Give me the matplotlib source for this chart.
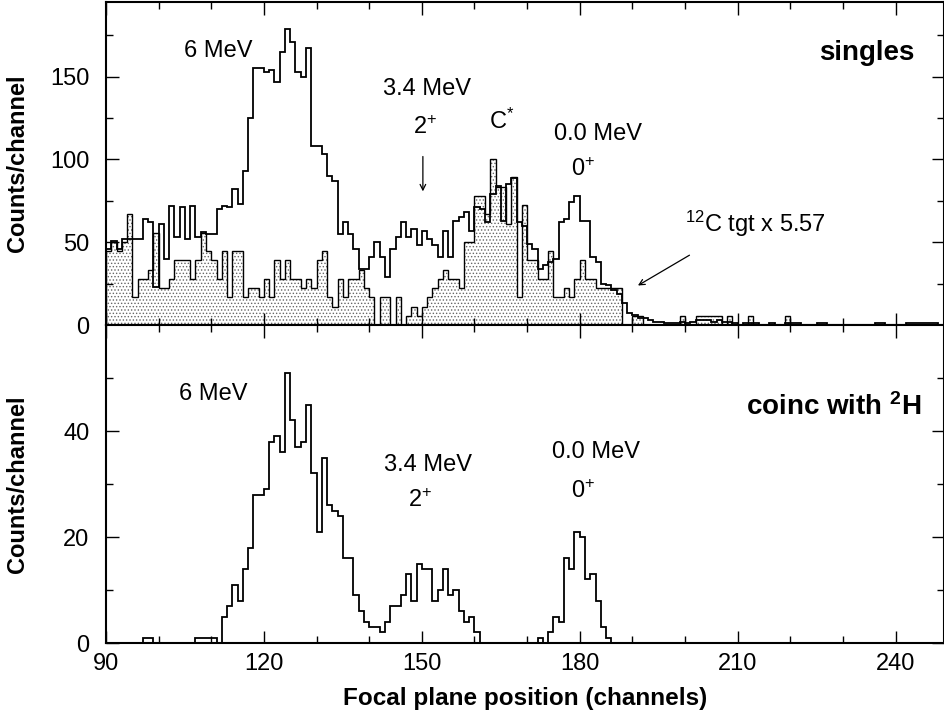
import numpy as np
import matplotlib
matplotlib.use("Agg")
import matplotlib.pyplot as plt

plt.rcParams['font.family'] = ['Liberation Sans', 'DejaVu Sans']
plt.rcParams['mathtext.fontset'] = 'custom'
plt.rcParams['mathtext.rm'] = 'Liberation Sans'
plt.rcParams['mathtext.it'] = 'Liberation Sans:italic'
plt.rcParams['mathtext.bf'] = 'Liberation Sans:bold'
plt.rcParams['hatch.linewidth'] = 0.6

# channel edges: bins of width 1 starting at channel 90
first_channel = 90

# singles spectrum (open histogram), channels 90..249
singles = [46, 51, 46, 52, 52, 52, 52, 64, 62, 23,
           61, 40, 72, 53, 71, 52, 72, 53, 56, 55,
           55, 70, 72, 71, 82, 73, 93, 125, 155, 155,
           153, 154, 147, 165, 179, 171, 153, 150, 167, 108,
           108, 103, 90, 87, 55, 62, 55, 46, 34, 34,
           41, 50, 41, 29, 46, 53, 62, 53, 58, 48,
           57, 52, 48, 41, 57, 41, 63, 65, 68, 57,
           71, 70, 62, 79, 84, 63, 85, 89, 62, 60,
           49, 46, 34, 36, 38, 40, 62, 64, 74, 78,
           63, 63, 41, 38, 25, 24, 21, 19, 13, 7,
           6, 4, 4, 3, 2, 2, 1, 1, 1, 2,
           1, 2, 3, 3, 3, 2, 3, 2, 2, 1,
           0, 1, 1, 1, 0, 0, 1, 0, 0, 1,
           1, 1, 0, 0, 0, 1, 1, 0, 0, 0,
           0, 0, 0, 0, 0, 0, 1, 1, 0, 0,
           0, 0, 1, 1, 1, 1, 1, 1, 0, 0]

# 12C target spectrum (raw counts per channel), shown scaled x 5.57
carbon_scale = 5.57
carbon_counts = [8, 9, 8, 9, 12, 3, 5, 5, 6, 10,
                 4, 4, 5, 7, 7, 7, 5, 7, 10, 8,
                 7, 5, 8, 3, 8, 8, 3, 4, 4, 3,
                 5, 3, 7, 5, 7, 5, 5, 4, 5, 4,
                 7, 8, 3, 2, 5, 3, 5, 5, 6, 4,
                 3, 0, 3, 3, 0, 3, 0, 1, 2, 1,
                 2, 3, 4, 5, 6, 5, 5, 4, 9, 9,
                 14, 14, 12, 18, 15, 15, 11, 16, 3, 13,
                 7, 7, 5, 5, 8, 3, 3, 4, 3, 5,
                 7, 5, 5, 4, 4, 4, 4, 4, 0, 0,
                 1, 1, 0, 0, 0, 0, 0, 0, 0, 1,
                 0, 0, 1, 1, 1, 1, 1, 0, 1, 0,
                 0, 0, 1, 0, 0, 0, 0, 0, 0, 1,
                 0, 0, 0, 0, 0, 0, 0, 0, 0, 0,
                 0, 0, 0, 0, 0, 0, 0, 0, 0, 0,
                 0, 0, 0, 0, 0, 0, 0, 0, 0, 0]

# coincidences with 2H, channels 90..249
coinc = [0, 0, 0, 0, 0, 0, 0, 1, 1, 0,
         0, 0, 0, 0, 0, 0, 0, 1, 1, 1,
         1, 0, 5, 7, 11, 8, 14, 18, 28, 28,
         29, 38, 39, 36, 51, 42, 37, 38, 45, 32,
         21, 35, 26, 25, 24, 16, 16, 9, 6, 4,
         3, 3, 2, 4, 7, 7, 9, 13, 8, 15,
         14, 14, 8, 10, 14, 9, 10, 6, 4, 5,
         2, 0, 0, 0, 0, 0, 0, 0, 0, 0,
         0, 0, 1, 0, 2, 5, 4, 16, 14, 21,
         20, 12, 13, 8, 3, 1, 0, 0, 0, 0,
         0, 0, 0, 0, 0, 0, 0, 0, 0, 0,
         0, 0, 0, 0, 0, 0, 0, 0, 0, 0,
         0, 0, 0, 0, 0, 0, 0, 0, 0, 0,
         0, 0, 0, 0, 0, 0, 0, 0, 0, 0,
         0, 0, 0, 0, 0, 0, 0, 0, 0, 0,
         0, 0, 0, 0, 0, 0, 0, 0, 0, 0]

edges = np.arange(first_channel, first_channel + len(singles) + 1)
carbon = np.array(carbon_counts) * carbon_scale

W, H = 945, 712
fig = plt.figure(figsize=(W / 100, H / 100), dpi=100)
left, right = 106 / W, 944 / W
ax1 = fig.add_axes([left, (H - 325) / H, right - left, 323 / H])
ax2 = fig.add_axes([left, (H - 643) / H, right - left, 318 / H], sharex=ax1)

# top panel
ax1.stairs(carbon, edges, fill=True, facecolor='white', edgecolor='#666666',
           hatch='.....', linewidth=0, zorder=1)
ax1.stairs(carbon, edges, color='black', linewidth=1.0, zorder=2)
ax1.stairs(singles, edges, color='black', linewidth=1.3, zorder=3)
ax1.set_ylim(0, 195)
ax1.set_yticks([0, 50, 100, 150])
ax1.set_yticks([25, 75, 125, 175], minor=True)

# bottom panel
ax2.stairs(coinc, edges, color='black', linewidth=1.3, zorder=3)
ax2.set_ylim(0, 60)
ax2.set_yticks([0, 20, 40])
ax2.set_yticks([10, 30, 50], minor=True)

ax2.set_xlim(90, 249.2)
ax2.set_xticks([90, 120, 150, 180, 210, 240])
ax2.set_xticks(np.arange(90, 250, 10), minor=True)

for ax in (ax1, ax2):
    ax.tick_params(which='both', direction='in', top=True, right=True,
                   labelsize=17, width=1)
    ax.tick_params(which='major', length=9)
    ax.tick_params(which='minor', length=5)
    ax.tick_params(axis='y', which='major', pad=12)
    ax.tick_params(axis='x', which='major', pad=7)
    for s in ax.spines.values():
        s.set_linewidth(1.5)
ax1.tick_params(labelbottom=False)

ylab = dict(fontsize=17, fontweight='bold', rotation=90, ha='center', va='center')
fig.text(18 / W, 1 - 163 / H, 'Counts/channel', **ylab)
fig.text(18 / W, 1 - 484 / H, 'Counts/channel', **ylab)
fig.text((106 + 944) / 2 / W, 1 - 698 / H, 'Focal plane position (channels)',
         fontsize=17.5, fontweight='bold', ha='center', va='center')

tk = dict(fontsize=17, ha='center', va='center')
# top annotations
ax1.text(111.3, 165.6, '6 MeV', **tk)
ax1.text(151.0, 142.7, '3.4 MeV', **tk)
ax1.text(150.6, 119, r'2$^{+}$', **tk)
ax1.annotate('', xy=(150.2, 79), xytext=(150.2, 103.4),
             arrowprops=dict(arrowstyle='->', color='black', lw=0.9))
ax1.text(165.2, 122.7, r'C$^{*}$', **tk)
ax1.text(183.4, 115.5, '0.0 MeV', **tk)
ax1.text(180.6, 94, r'0$^{+}$', **tk)
ax1.text(200, 61, r'$^{12}$C tgt x 5.57', fontsize=17, ha='left', va='center')
ax1.annotate('', xy=(190.6, 23), xytext=(201.3, 43),
             arrowprops=dict(arrowstyle='->', color='black', lw=0.9))
ax1.text(243.6, 164, 'singles', fontsize=20, fontweight='bold', ha='right', va='center')

# bottom annotations
ax2.text(110.3, 46.9, '6 MeV', **tk)
ax2.text(151.1, 33.6, '3.4 MeV', **tk)
ax2.text(149.6, 26.9, r'2$^{+}$', **tk)
ax2.text(183.0, 36, '0.0 MeV', **tk)
ax2.text(180.6, 28.6, r'0$^{+}$', **tk)
ax2.text(244.9, 44.5, r'coinc with $^{\mathbf{2}}$H', fontsize=20, fontweight='bold',
         ha='right', va='center')

fig.savefig('out.png', dpi=100)
